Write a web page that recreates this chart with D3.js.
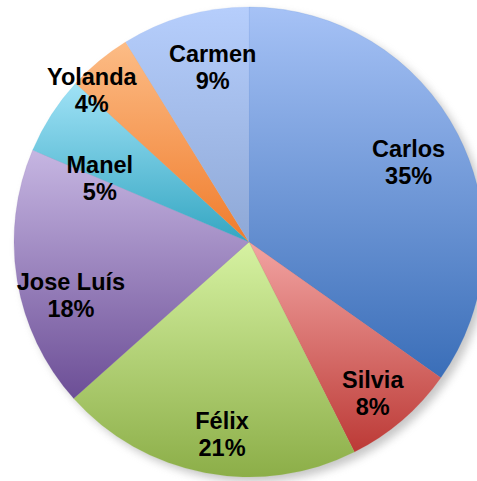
<!DOCTYPE html>
<html><head><meta charset="utf-8">
<script src="https://cdn.jsdelivr.net/npm/d3@7"></script>
<style>body{margin:0;background:#fff}svg{display:block}</style>
</head><body>
<svg id="c" width="477" height="481"></svg>
<script>
const names = ["Carlos","Silvia","Félix","Jose Luís","Manel","Yolanda","Carmen"];
const values = [34.8, 7.8, 20.8, 18.0, 5.4, 4.4, 8.8];
const topColors = ["#a6c2f6","#f2a4a2","#d6f2a2","#c6b6e2","#a0e2f6","#fcbc86","#b6cefc"];
const bottomColors = ["#3a6eb8","#bc3a36","#8cae48","#6c4e96","#34a6c2","#f07c2c","#8ea8d6"];
// label layout tweaks (radius fraction, angle shift in degrees)
const labelRadius = [0.76, 0.83, 0.825, 0.79, 0.69, 0.93, 0.76];
const labelShift = [0.7, 1.3, -2.8, -7.1, -9.7, -6.4, 4.1];

const W = 477, H = 481, cx = 249, cy = 242, R = 235;
const svg = d3.select("#c");
const defs = svg.append("defs");
const f = defs.append("filter").attr("id","sh").attr("x","-20%").attr("y","-20%").attr("width","140%").attr("height","140%");
f.append("feGaussianBlur").attr("stdDeviation", 4);

names.forEach((n,i)=>{
  const g = defs.append("linearGradient").attr("id","g"+i).attr("x1",0).attr("y1",0).attr("x2",0).attr("y2",1);
  g.append("stop").attr("offset","0%").attr("stop-color",topColors[i]);
  g.append("stop").attr("offset","100%").attr("stop-color",bottomColors[i]);
});

const root = svg.append("g").attr("transform",`translate(${cx},${cy})`);
root.append("circle").attr("cx",5).attr("cy",5).attr("r",R).attr("fill","#9a9a9a").attr("opacity",0.55).attr("filter","url(#sh)");

const pie = d3.pie().sort(null).value(d=>d)(values);
const arc = d3.arc().innerRadius(0).outerRadius(R);
root.selectAll("path.s").data(pie).join("path").attr("class","s")
  .attr("d",arc).attr("fill",(d,i)=>`url(#g${i})`)
  .attr("stroke",(d,i)=>d3.color(bottomColors[i]).brighter(0.3)).attr("stroke-width",0.4).attr("stroke-opacity",0.4);

const total = d3.sum(values);
const lbl = root.selectAll("text.l").data(pie).join("text").attr("class","l")
  .attr("transform",(d,i)=>{
    const a = (d.startAngle+d.endAngle)/2 + labelShift[i]*Math.PI/180;
    const r = R*labelRadius[i];
    return `translate(${r*Math.sin(a)},${-r*Math.cos(a)})`;
  })
  .attr("text-anchor","middle")
  .style("font-family","'Liberation Sans', Arial, sans-serif")
  .style("font-weight","bold").style("font-size","23.5px").attr("fill","#000");
lbl.append("tspan").attr("x",0).attr("y",-5).text((d,i)=>names[i]);
lbl.append("tspan").attr("x",0).attr("y",22).text(d=>Math.round(d.value/total*100)+"%");
</script>
</body></html>
